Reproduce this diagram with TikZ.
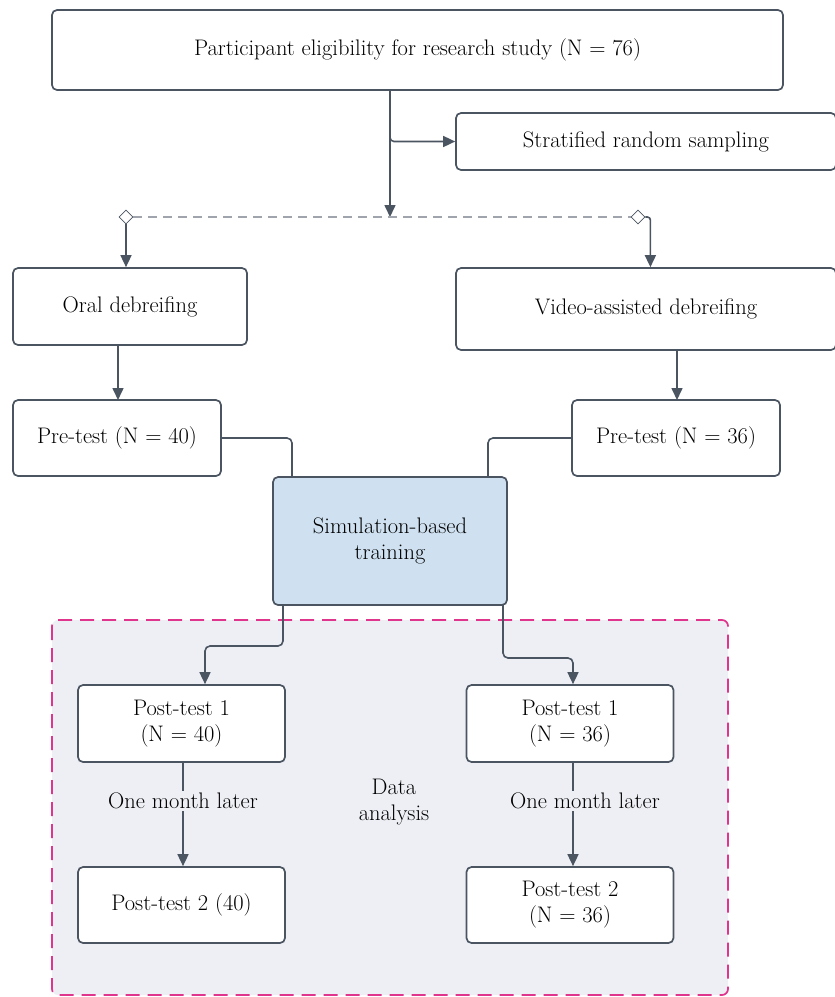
\documentclass[tikz,border=0pt]{standalone}
\usetikzlibrary{arrows.meta,shapes.geometric,positioning}
\definecolor{linegray}{HTML}{4A5561}
\definecolor{dashgray}{HTML}{A0A5AD}
\definecolor{simblue}{HTML}{CFE1F1}
\definecolor{bggray}{HTML}{EEEFF4}
\definecolor{pinkdash}{HTML}{E0358C}
\begin{document}
\begin{tikzpicture}[x=1pt,y=-1pt,
    box/.style={draw=linegray, line width=1.7pt, rounded corners=5pt, fill=white, align=center, font=\fontsize{22.5}{26}\selectfont},
    link/.style={draw=linegray, line width=1.6pt},
    arr/.style={link, -{Triangle[length=12pt,width=11pt]}},
    gate/.style={diamond, draw=linegray, fill=white, line width=0.8pt, minimum size=14pt, inner sep=0pt},
    lbl/.style={fill=bggray, inner sep=2pt, align=center, font=\fontsize{22.5}{26}\selectfont}]
    \useasboundingbox (0,0) rectangle (835,997);

    % data analysis region
    \draw[pinkdash, fill=bggray, line width=1.7pt, dash pattern=on 14pt off 8pt, rounded corners=6pt] (52,620) rectangle (728,995);

    % top part
    \node[box, minimum width=731pt, minimum height=80pt] (elig) at (417.5,50) {Participant eligibility for research study (N = 76)};
    \node[box, minimum width=380pt, minimum height=57pt] (strat) at (646,141.5) {Stratified random sampling};
    \coordinate (out) at (390,90);
    \coordinate (br) at (390,128);
    \coordinate (split) at (390,217);
    \draw[link] (out) -- (br);
    \draw[arr] (br) -- (split);
    \draw[arr, rounded corners=4pt] (br) |- (strat.west);

    % split into two groups
    \node[gate] (gl) at (126,217) {};
    \node[gate] (gr) at (638,217) {};
    \draw[dashgray, line width=1.4pt, dash pattern=on 9pt off 6pt] (gl) -- (gr);
    \node[box, minimum width=234pt, minimum height=77pt] (oral) at (130,306.5) {Oral debreifing};
    \node[box, minimum width=380pt, minimum height=82pt] (video) at (646,309) {Video-assisted debreifing};
    \draw[arr] (gl.south) -- (gl.south |- oral.north);
    \draw[arr, rounded corners=3pt] (gr.east) -| ([xshift=5pt]gr.east |- video.north);

    % pre-tests
    \node[box, minimum width=208pt, minimum height=76pt] (prel) at (117,438) {Pre-test (N = 40)};
    \node[box, minimum width=208pt, minimum height=76pt] (prer) at (676,438) {Pre-test (N = 36)};
    \draw[arr] (118,345.5) -- (118,400);
    \draw[arr] (677,350) -- (677,400);

    % training
    \node[box, fill=simblue, minimum width=234pt, minimum height=128pt] (sim) at (390,541) {Simulation-based\\training};
    \draw[link, rounded corners=5pt] (prel.east) -| (292,477);
    \draw[link, rounded corners=5pt] (prer.west) -| (488,477);

    % post-tests
    \node[box, minimum width=207pt, minimum height=77pt] (postla) at (181.5,723.5) {Post-test 1\\(N = 40)};
    \node[box, minimum width=207pt, minimum height=77pt] (postra) at (570,723.5) {Post-test 1\\(N = 36)};
    \node[box, minimum width=207pt, minimum height=76pt] (postlb) at (181.5,905) {Post-test 2 (40)};
    \node[box, minimum width=207pt, minimum height=76pt] (postrb) at (570,905) {Post-test 2\\(N = 36)};
    \draw[arr, rounded corners=5pt] (283,605) -- (283,646) -| (postla.north -| 205,0);
    \draw[arr, rounded corners=5pt] (503,605) -- (503,658) -| (postra.north -| 573,0);

    \draw[arr] (postla.south -| 183,0) -- node[lbl, pos=0.37] {One month later} (postlb.north -| 183,0);
    \draw[arr] (postra.south -| 573,0) -- node[lbl, pos=0.37, xshift=12pt] {One month later} (postrb.north -| 573,0);
    \node[lbl] (data) at (394,802) {Data\\analysis};
\end{tikzpicture}
\end{document}
